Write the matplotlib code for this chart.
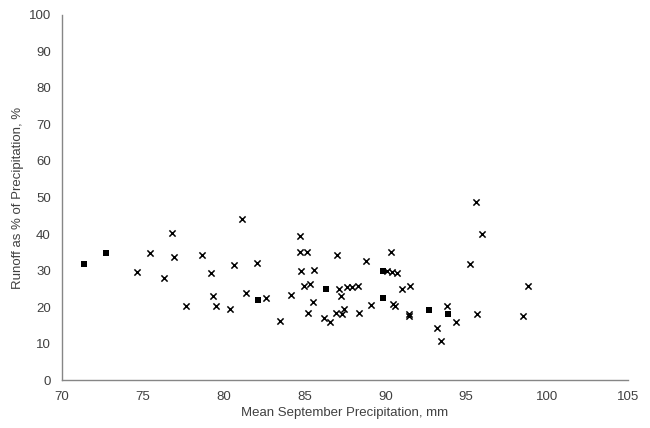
import matplotlib.pyplot as plt

plt.rcParams['font.family'] = ['Liberation Sans', 'DejaVu Sans']

# mean September precipitation (mm) and runoff share (%)
precip_x = [74.66, 75.44, 76.31, 76.80, 76.90, 77.69, 78.68, 79.21, 79.32, 79.54,
            80.39, 80.64, 81.13, 81.36, 82.08, 82.63, 83.46, 84.16, 84.74, 84.72,
            85.13, 84.78, 85.60, 84.98, 85.35, 85.50, 85.19, 86.22, 86.55, 87.01,
            87.15, 87.25, 86.94, 87.29, 87.46, 87.63, 87.96, 88.29, 88.35, 88.80,
            89.13, 90.37, 90.07, 90.40, 90.69, 90.49, 90.59, 91.00, 91.50, 91.44,
            91.48, 93.79, 93.17, 93.42, 94.39, 95.23, 95.62, 95.95, 95.68, 98.80,
            98.53]
runoff_x = [29.7, 34.9, 27.9, 40.4, 33.8, 20.2, 34.2, 29.3, 23.0, 20.3,
            19.5, 31.5, 44.0, 23.8, 32.1, 22.4, 16.3, 23.2, 39.4, 35.2,
            35.2, 29.9, 30.2, 25.7, 26.3, 21.3, 18.4, 17.1, 16.0, 34.3,
            25.0, 23.1, 18.3, 18.0, 19.4, 25.5, 25.5, 25.7, 18.4, 32.6,
            20.5, 35.1, 29.8, 29.6, 29.4, 20.8, 20.3, 25.0, 25.8, 18.1,
            17.5, 20.4, 14.3, 10.6, 15.8, 31.9, 48.8, 39.9, 18.2, 25.7,
            17.6]

precip_sq = [71.36, 72.70, 82.14, 86.31, 89.87, 89.83, 92.72, 93.85]
runoff_sq = [31.8, 34.7, 21.9, 25.0, 30.0, 22.6, 19.1, 18.2]

fig = plt.figure(figsize=(6.5, 4.28), dpi=100)
ax = fig.add_axes([0.0954, 0.1121, 0.8706, 0.8529])

ax.scatter(precip_x, runoff_x, marker='x', s=20, c='black', linewidths=1.1)
ax.scatter(precip_sq, runoff_sq, marker='s', s=22, c='black', linewidths=0)

ax.set_xlim(70, 105)
ax.set_ylim(0, 100)
ax.set_xticks(range(70, 106, 5))
ax.set_yticks(range(0, 101, 10))

for side in ['top', 'right']:
    ax.spines[side].set_visible(False)
for side in ['left', 'bottom']:
    ax.spines[side].set_color('#868686')
    ax.spines[side].set_linewidth(1.0)

ax.tick_params(length=0, labelsize=9.5, colors='#404040', pad=8)
ax.set_xlabel('Mean September Precipitation, mm', fontsize=9.5, color='#404040', labelpad=3)
ax.set_ylabel('Runoff as % of Precipitation, %', fontsize=9.5, color='#404040', labelpad=3)

fig.savefig('out.png', dpi=100)
